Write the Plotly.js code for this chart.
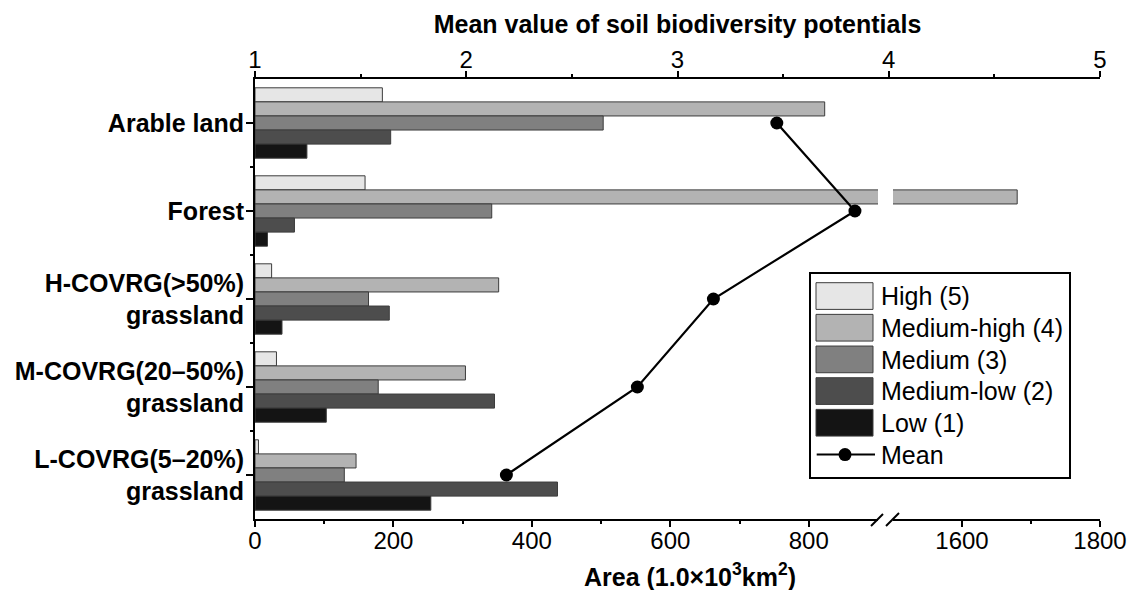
<!DOCTYPE html>
<html><head><meta charset="utf-8">
<script src="https://cdn.plot.ly/plotly-3.0.1.min.js"></script>
<style>body{margin:0;background:#fff}#chart{width:1133px;height:590px}</style>
</head><body><div id="chart"></div>
<script>
// ---- data ----
const categories = ["Arable land", "Forest", "H-COVRG(>50%) grassland", "M-COVRG(20–50%) grassland", "L-COVRG(5–20%) grassland"];
const categoryLabels = ["Arable land", "Forest", "H-COVRG(&gt;50%)<br>grassland", "M-COVRG(20–50%)<br>grassland", "L-COVRG(5–20%)<br>grassland"];
const seriesNames = ["High (5)", "Medium-high (4)", "Medium (3)", "Medium-low (2)", "Low (1)"];
const high       = [184, 159, 24, 31, 5];
const mediumHigh = [823, 1680, 352, 304, 146];
const medium     = [503, 342, 164, 178, 129];
const mediumLow  = [196, 57, 194, 346, 437];
const low        = [75, 18, 39, 103, 254];
const meanValues = [3.47, 3.84, 3.17, 2.81, 2.19];
const meanName = "Mean";
const bottomTicksLeft = [0, 200, 400, 600, 800];
const bottomMinorLeft = [100, 300, 500, 700];
const bottomTicksRight = [1600, 1800];
const bottomMinorRight = [1700];
const topTicks = [1, 2, 3, 4, 5];
const topMinor = [1.5, 2.5, 3.5, 4.5];
const seriesColors = ["#e6e6e6", "#b3b3b3", "#808080", "#4d4d4d", "#141414"];

const seriesValues = [high, mediumHigh, medium, mediumLow, low];
const yIdx = categories.map((c, i) => i);
const yMinor = categories.slice(1).map((c, i) => i + 0.5);

// ---- geometry helpers (layout decorations only) ----
const L = 255, R = 1100, T = 79, B = 519;
const W = R - L, H = B - T;
const px = v => (v - L) / W;
const py = v => (B - v) / H;
const splitL = (878 - L) / W, splitR = (893 - L) / W;

const FONT = '"Liberation Sans", Arial, Helvetica, sans-serif';

const traces = [];
["x", "x2"].forEach((ax, k) => {
  seriesValues.forEach((vals, s) => {
    traces.push({
      type: "bar", orientation: "h",
      x: vals, y: yIdx, name: seriesNames[s],
      xaxis: ax, yaxis: "y",
      marker: {color: seriesColors[s], line: {color: "#3c3c3c", width: 1}},
      showlegend: false, hoverinfo: "x+name"
    });
  });
});
traces.push({
  type: "scatter", mode: "lines+markers",
  x: meanValues, y: yIdx, name: meanName,
  xaxis: "x3", yaxis: "y",
  line: {color: "#000", width: 2.2},
  marker: {color: "#000", size: 13},
  showlegend: false, cliponaxis: false
});

const baseAxis = {
  ticks: "outside", ticklen: 6, tickwidth: 1.5, tickcolor: "#000",
  showline: true, linewidth: 2, linecolor: "#000",
  showgrid: false, zeroline: false,
  tickfont: {size: 24, family: FONT, color: "#000"},
  fixedrange: true
};

const shapes = [];
const annotations = [];

// legend box
shapes.push({type: "rect", xref: "paper", yref: "paper",
  x0: px(810), x1: px(1070), y0: py(478), y1: py(273),
  line: {color: "#000", width: 2}, fillcolor: "#fff", layer: "above"});
seriesNames.forEach((n, i) => {
  const top = 282.7 + i * 31.67;
  shapes.push({type: "rect", xref: "paper", yref: "paper",
    x0: px(816), x1: px(873), y0: py(top + 26.7), y1: py(top),
    line: {color: "#3c3c3c", width: 1}, fillcolor: seriesColors[i], layer: "above"});
  annotations.push({xref: "paper", yref: "paper", x: px(879), y: py(top + 13.5),
    xanchor: "left", yanchor: "middle", showarrow: false, text: n,
    font: {size: 25, family: FONT, color: "#000"}});
});
const meanY = 282.7 + 5 * 31.67 + 13.5;
shapes.push({type: "line", xref: "paper", yref: "paper",
  x0: px(816.7), x1: px(875), y0: py(meanY), y1: py(meanY),
  line: {color: "#000", width: 2}, layer: "above"});
shapes.push({type: "circle", xref: "paper", yref: "paper",
  x0: px(845 - 6.5), x1: px(845 + 6.5), y0: py(meanY + 6.5), y1: py(meanY - 6.5),
  line: {color: "#000", width: 0}, fillcolor: "#000", layer: "above"});
annotations.push({xref: "paper", yref: "paper", x: px(879), y: py(meanY),
  xanchor: "left", yanchor: "middle", showarrow: false, text: meanName,
  font: {size: 25, family: FONT, color: "#000"}});

// axis break marks
[[871, 526, 883, 514], [886, 526, 899, 513]].forEach(s => {
  shapes.push({type: "line", xref: "paper", yref: "paper",
    x0: px(s[0]), y0: py(s[1]), x1: px(s[2]), y1: py(s[3]),
    line: {color: "#000", width: 2}, layer: "above"});
});

// bottom axis title
annotations.push({xref: "paper", yref: "paper", x: px(690), y: py(575),
  xanchor: "center", yanchor: "middle", showarrow: false,
  text: "Area (1.0×10<sup>3</sup>km<sup>2</sup>)",
  font: {size: 25, family: FONT, color: "#000", weight: "bold"}});

const layout = {
  width: 1133, height: 590,
  margin: {l: L, r: 1133 - R, t: T, b: 590 - B, pad: 0},
  paper_bgcolor: "#fff", plot_bgcolor: "rgba(0,0,0,0)",
  barmode: "group", bargap: 0.2, bargroupgap: 0,
  showlegend: false,
  font: {family: FONT, color: "#000", size: 24},
  xaxis: Object.assign({}, baseAxis, {
    domain: [0, splitL], range: [0, 900], anchor: "y", ticklabelstandoff: -7,
    tickmode: "array", tickvals: bottomTicksLeft, ticktext: bottomTicksLeft.map(String),
    minor: {tickmode: "array", tickvals: bottomMinorLeft, ticks: "outside", ticklen: 3, tickwidth: 1.5, tickcolor: "#000", showgrid: false}
  }),
  xaxis2: Object.assign({}, baseAxis, {
    domain: [splitR, 1], range: [1500, 1800], anchor: "y", ticklabelstandoff: -7,
    tickmode: "array", tickvals: bottomTicksRight, ticktext: bottomTicksRight.map(String),
    minor: {tickmode: "array", tickvals: bottomMinorRight, ticks: "outside", ticklen: 3, tickwidth: 1.5, tickcolor: "#000", showgrid: false}
  }),
  xaxis3: Object.assign({}, baseAxis, {
    domain: [0, 1], range: [1, 5], anchor: "y", side: "top", ticklabelstandoff: -7,
    tickmode: "array", tickvals: topTicks, ticktext: topTicks.map(String),
    minor: {tickmode: "array", tickvals: topMinor, ticks: "outside", ticklen: 3, tickwidth: 1.5, tickcolor: "#000", showgrid: false},
    title: {text: "Mean value of soil biodiversity potentials", standoff: 6,
      font: {size: 25, family: FONT, color: "#000", weight: "bold"}}
  }),
  yaxis: Object.assign({}, baseAxis, {
    domain: [0, 1], range: [4.5, -0.5], anchor: "x", ticklabelstandoff: -3,
    tickmode: "array", tickvals: yIdx, ticktext: categoryLabels, ticklen: 7,
    tickfont: {size: 25, family: FONT, color: "#000", weight: "bold"},
    minor: {tickmode: "array", tickvals: yMinor, ticks: "outside", ticklen: 3, tickwidth: 1.5, tickcolor: "#000", showgrid: false}
  }),
  shapes: shapes,
  annotations: annotations
};

Plotly.newPlot("chart", traces, layout, {displayModeBar: false, responsive: false});
</script>
</body></html>
